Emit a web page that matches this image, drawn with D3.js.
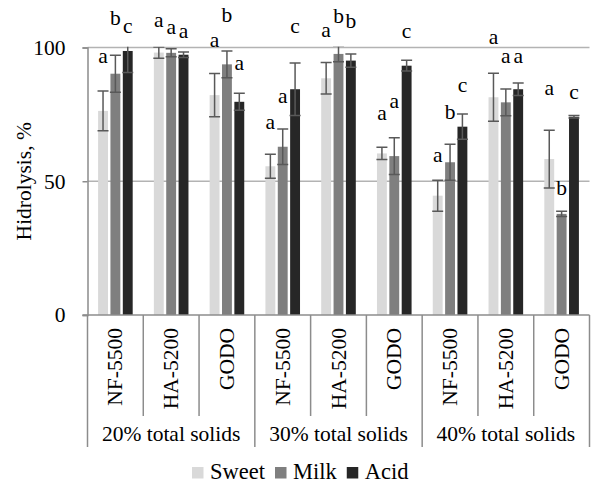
<!DOCTYPE html>
<html>
<head>
<meta charset="utf-8">
<script src="https://cdn.jsdelivr.net/npm/d3@7"></script>
<style>
    body { margin: 0; background: #fff; }
</style>
</head>
<body>
<div class="chart"></div>
<script>
// category structure
let groups = ['20% total solids', '30% total solids', '40% total solids'];
let cultivars = ['NF-5500', 'HA-5200', 'GODO'];
let series = ['Sweet', 'Milk', 'Acid'];
let yTicks = [0, 50, 100];

// hydrolysis, %, one value per cultivar inside each group
let sweet = [76.3, 98.1, 82.2, 55.6, 88.5, 60.4, 44.6, 81.4, 58.3];
let milk = [90.2, 98.0, 93.7, 62.9, 97.6, 59.4, 57.1, 79.5, 37.8];
let acid = [98.7, 97.3, 79.7, 84.4, 95.1, 93.2, 70.4, 84.4, 74.1];

// error bar half-lengths
let sweetErr = [7.4, 2.1, 8.1, 4.5, 5.9, 2.3, 5.8, 9.0, 10.8];
let milkErr = [6.9, 1.5, 5.0, 6.6, 2.9, 6.9, 6.7, 5.0, 1.0];
let acidErr = [8.0, 1.0, 3.2, 9.8, 2.5, 2.0, 4.7, 2.3, 0.5];

// significance letters and the level (in %) where each one sits
let sweetLetters = ['a', 'a', 'a', 'a', 'a', 'a', 'a', 'a', 'a'];
let milkLetters = ['b', 'a', 'b', 'a', 'b', 'a', 'b', 'a', 'b'];
let acidLetters = ['c', 'a', 'a', 'c', 'b', 'c', 'c', 'a', 'c'];
let sweetLetterAt = [94.3, 107.6, 100.3, 69.4, 104.0, 72.9, 57.3, 101.3, 82.2];
let milkLetterAt = [108.4, 104.9, 109.6, 79.4, 109.0, 77.3, 73.2, 94.1, 44.9];
let acidLetterAt = [105.3, 103.7, 91.6, 105.3, 107.2, 103.4, 83.5, 94.1, 80.6];

let colors = ['#d9d9d9', '#7f7f7f', '#262626'];
let values = [sweet, milk, acid];
let errors = [sweetErr, milkErr, acidErr];
let letters = [sweetLetters, milkLetters, acidLetters];
let letterAt = [sweetLetterAt, milkLetterAt, acidLetterAt];

let width = 591;
let height = 487;
let plotLeft = 87.5;
let plotRight = 589.5;
let plotTop = 47.5;
let plotBottom = 315;
let fontSize = 21.5;
let fontFamily = '"Liberation Serif", "Times New Roman", serif';
let axisColor = '#8c8c8c';

let svg = d3.select('.chart')
    .append('svg')
    .attr('width', width)
    .attr('height', height)
    .attr('font-family', fontFamily);

// one band per cultivar/group pair
let cats = d3.range(groups.length * cultivars.length);
let x = d3.scaleBand()
    .domain(cats)
    .range([plotLeft, plotRight])
    .padding(0);

let mid = x.bandwidth() / 2;
let x1 = d3.scaleBand()
    .domain(series)
    .range([mid - 17.3, mid + 17.3])
    .paddingInner(0.2);

let y = d3.scaleLinear()
    .domain([0, 100])
    .range([plotBottom, plotTop]);

// gridlines
svg.append('g')
    .selectAll('line')
    .data(yTicks.filter(d => d > 0))
    .join('line')
    .attr('x1', plotLeft)
    .attr('x2', plotRight)
    .attr('y1', d => y(d))
    .attr('y2', d => y(d))
    .attr('stroke', '#b3b3b3')
    .attr('stroke-width', 1.5);

// y axis
let yAxis = svg.append('g')
    .attr('transform', 'translate(' + plotLeft + ',0)')
    .call(d3.axisLeft(y).tickValues(yTicks).tickSize(5).tickPadding(17))
    .attr('font-family', fontFamily)
    .attr('font-size', fontSize);
yAxis.select('.domain').attr('stroke', axisColor).attr('stroke-width', 1.5);
yAxis.selectAll('.tick line').attr('stroke', axisColor).attr('stroke-width', 1.5);
yAxis.selectAll('.tick text').attr('fill', '#000');

svg.append('text')
    .attr('transform', 'translate(24,' + y(50) + ') rotate(-90)')
    .attr('text-anchor', 'middle')
    .attr('dominant-baseline', 'central')
    .attr('font-family', fontFamily)
    .attr('font-size', fontSize)
    .text('Hidrolysis, %');

// bars
let bars = svg.append('g');
series.forEach(function(s, k) {
    bars.append('g')
        .selectAll('rect')
        .data(cats)
        .join('rect')
        .attr('x', i => x(i) + x1(s))
        .attr('y', i => y(values[k][i]))
        .attr('width', x1.bandwidth())
        .attr('height', i => y(0) - y(values[k][i]))
        .attr('fill', colors[k]);
});

// error bars, clipped at the top of the value axis
svg.append('clipPath')
    .attr('id', 'plotClip')
    .append('rect')
    .attr('x', plotLeft)
    .attr('y', plotTop - 0.75)
    .attr('width', plotRight - plotLeft)
    .attr('height', plotBottom - plotTop + 1);

let errG = svg.append('g').attr('clip-path', 'url(#plotClip)');
series.forEach(function(s, k) {
    cats.forEach(function(i) {
        let cx = x(i) + x1(s) + x1.bandwidth() / 2;
        let hi = y(values[k][i] + errors[k][i]);
        let lo = y(values[k][i] - errors[k][i]);
        let g = errG.append('g')
            .attr('stroke', '#595959')
            .attr('stroke-width', 1.5);
        g.append('line').attr('x1', cx).attr('x2', cx).attr('y1', hi).attr('y2', lo);
        g.append('line').attr('x1', cx - 5.5).attr('x2', cx + 5.5).attr('y1', hi).attr('y2', hi);
        g.append('line').attr('x1', cx - 5.5).attr('x2', cx + 5.5).attr('y1', lo).attr('y2', lo);
    });
});

// significance letters
series.forEach(function(s, k) {
    svg.append('g')
        .selectAll('text')
        .data(cats)
        .join('text')
        .attr('x', i => x(i) + x1(s) + x1.bandwidth() / 2)
        .attr('y', i => y(letterAt[k][i]))
        .attr('text-anchor', 'middle')
        .attr('font-family', fontFamily)
        .attr('font-size', fontSize)
        .text(i => letters[k][i]);
});

// category axis with two label rows
let axisG = svg.append('g')
    .attr('stroke', axisColor)
    .attr('stroke-width', 1.5);
axisG.append('line')
    .attr('x1', plotLeft - 5).attr('x2', plotRight)
    .attr('y1', plotBottom).attr('y2', plotBottom);
axisG.selectAll('.divider')
    .data(d3.range(cats.length + 1))
    .join('line')
    .attr('class', 'divider')
    .attr('x1', i => plotLeft + i * x.bandwidth())
    .attr('x2', i => plotLeft + i * x.bandwidth())
    .attr('y1', plotBottom)
    .attr('y2', i => i % cultivars.length === 0 ? 447 : 416);

svg.append('g')
    .selectAll('text')
    .data(cats)
    .join('text')
    .attr('transform', i => 'translate(' + (x(i) + mid) + ',328) rotate(-90)')
    .attr('text-anchor', 'end')
    .attr('dominant-baseline', 'central')
    .attr('font-family', fontFamily)
    .attr('font-size', fontSize)
    .text(i => cultivars[i % cultivars.length]);

svg.append('g')
    .selectAll('text')
    .data(groups)
    .join('text')
    .attr('x', (d, j) => plotLeft + (j + 0.5) * cultivars.length * x.bandwidth())
    .attr('y', 441)
    .attr('text-anchor', 'middle')
    .attr('font-family', fontFamily)
    .attr('font-size', fontSize)
    .text(d => d);

// legend
let legendG = svg.append('g');
let lx = 192;
series.forEach(function(s, k) {
    legendG.append('rect')
        .attr('x', lx)
        .attr('y', 467)
        .attr('width', 11.5)
        .attr('height', 11.5)
        .attr('fill', colors[k]);
    let t = legendG.append('text')
        .attr('x', lx + 18)
        .attr('y', 479)
        .attr('font-family', fontFamily)
        .attr('font-size', 22.5)
        .text(s);
    lx += 18 + t.node().getComputedTextLength() + 10;
});
</script>
</body>
</html>
